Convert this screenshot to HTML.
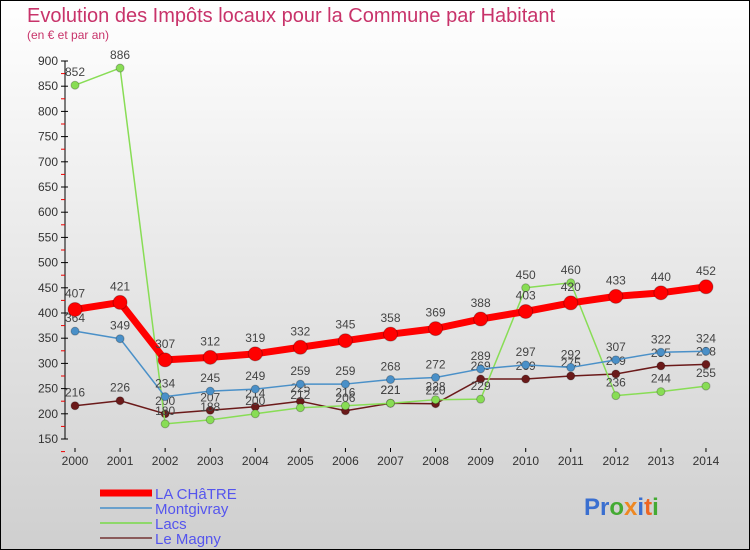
<!DOCTYPE html>
<html><head><meta charset="utf-8"><style>
body{margin:0;width:750px;height:550px;overflow:hidden}
svg{display:block}
text{font-family:"Liberation Sans",sans-serif}
</style></head><body>
<svg id="c" width="750" height="550" xmlns="http://www.w3.org/2000/svg">
<defs><linearGradient id="bg" x1="0" y1="0" x2="0" y2="1"><stop offset="0" stop-color="#ffffff"/><stop offset="1" stop-color="#cfcfcf"/></linearGradient></defs>
<rect x="0.5" y="0.5" width="749" height="549" fill="url(#bg)" stroke="#000"/>
<text x="27" y="22" font-size="20" fill="#c8336a">Evolution des Impôts locaux pour la Commune par Habitant</text>
<text x="27" y="39" font-size="12" fill="#c8336a">(en € et par an)</text>
<g id="axes"></g><g id="series"></g>
<g>
<line x1="100" y1="493" x2="152" y2="493" stroke="#f00" stroke-width="7"/>
<text x="155" y="499" font-size="15" fill="#5555ee">LA CHâTRE</text>
<line x1="100" y1="508" x2="152" y2="508" stroke="#6aa0cc" stroke-width="2"/>
<text x="155" y="514" font-size="15" fill="#5555ee">Montgivray</text>
<line x1="100" y1="523" x2="152" y2="523" stroke="#8ed86a" stroke-width="2"/>
<text x="155" y="529" font-size="15" fill="#5555ee">Lacs</text>
<line x1="100" y1="538" x2="152" y2="538" stroke="#8a5a5a" stroke-width="2"/>
<text x="155" y="544" font-size="15" fill="#5555ee">Le Magny</text>
</g>
<text x="584" y="515" font-size="24" font-weight="bold"><tspan fill="#3a6fd0">Pr</tspan><tspan fill="#44aa33">o</tspan><tspan fill="#ee8822">x</tspan><tspan fill="#3a6fd0">i</tspan><tspan fill="#ee6622">t</tspan><tspan fill="#44aa33">i</tspan></text>
</svg>
<script>
const years=[2000,2001,2002,2003,2004,2005,2006,2007,2008,2009,2010,2011,2012,2013,2014];
const laChatre=[407,421,307,312,319,332,345,358,369,388,403,420,433,440,452];
const montgivray=[364,349,234,245,249,259,259,268,272,289,297,292,307,322,324];
const lacs=[852,886,180,188,200,212,216,221,228,229,450,460,236,244,255];
const leMagny=[216,226,200,207,214,225,206,221,220,269,269,275,279,295,298];
const yTicks=[150,200,250,300,350,400,450,500,550,600,650,700,750,800,850,900];
const NS="http://www.w3.org/2000/svg";
const x=i=>75+i*45.07;
const y=v=>61+(900-v)*0.504;
function mk(tag,attrs,parent){const e=document.createElementNS(NS,tag);for(const k in attrs)e.setAttribute(k,attrs[k]);parent.appendChild(e);return e;}
const ax=document.getElementById('axes');
const yAxis=mk('line',{x1:65,y1:y(900),x2:65,y2:y(150),stroke:'#000'},ax);


yTicks.forEach(v=>{
  mk('line',{x1:61,y1:y(v),x2:68,y2:y(v),stroke:'#000'},ax);
  mk('line',{x1:61,y1:y(v-25),x2:65,y2:y(v-25),stroke:'#e00'},ax);
  const t=mk('text',{x:58,y:y(v)+4,'font-size':12,'text-anchor':'end',fill:'#333'},ax);
  t.textContent=v;
  
  
});
years.forEach((yr,i)=>{
  mk('line',{x1:x(i),y1:448,x2:x(i),y2:452,stroke:'#000'},ax);
  const t=mk('text',{x:x(i),y:465,'font-size':12,'text-anchor':'middle',fill:'#333'},ax);
  t.textContent=yr;
  
  
});
const sg=document.getElementById('series');
function draw(vals,color,w,r,name){
  const g=mk('g',{},sg);
  
  
  mk('polyline',{points:vals.map((v,i)=>x(i)+','+y(v)).join(' '),fill:'none',stroke:color,'stroke-width':w,'stroke-linejoin':'round'},g);
  vals.forEach((v,i)=>{
    const c=mk('circle',{cx:x(i),cy:y(v),r:r,fill:color,stroke:'rgba(0,0,0,0.25)'},g);
    
    
    const t=mk('text',{x:x(i),y:y(v)-r-5,'font-size':12,'text-anchor':'middle',fill:'#444'},g);
    t.textContent=v;
    
    
  });
}
draw(leMagny,'#6b1a1a',1.5,4,'series-le-magny');
draw(lacs,'#88dd55',1.5,4,'series-lacs');
draw(montgivray,'#4a90c8',1.5,4,'series-montgivray');
draw(laChatre,'#ff0000',7,7,'series-la-chatre');
</script>
</body></html>
